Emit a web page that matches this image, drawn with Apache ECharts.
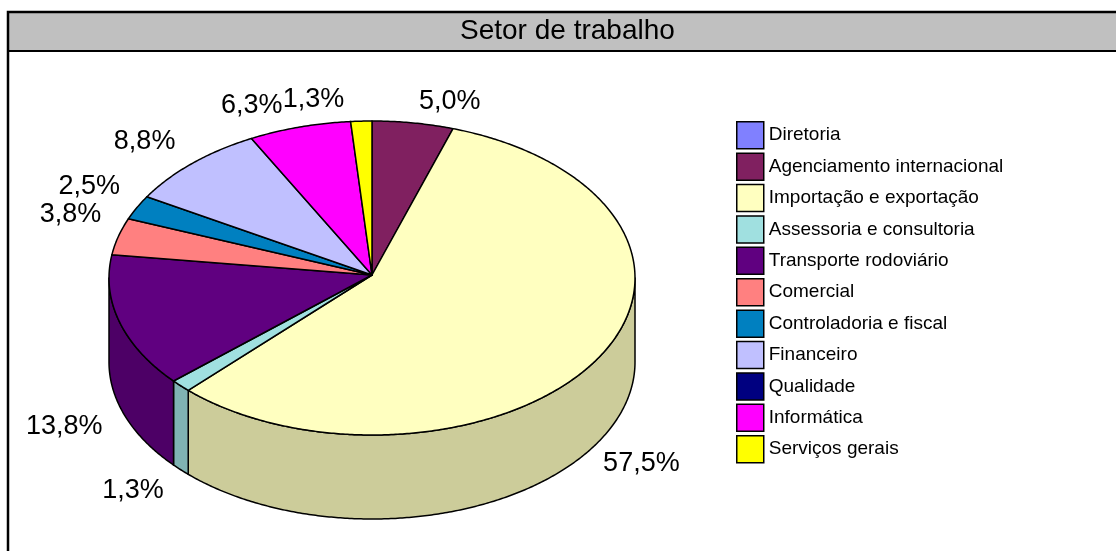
<!DOCTYPE html>
<html>
<head>
<meta charset="utf-8">
<script src="https://cdn.jsdelivr.net/npm/echarts@6/dist/echarts.min.js"></script>
<style>
  html, body { margin: 0; padding: 0; background: #fff; }
  #chart { width: 1116px; height: 551px; }
</style>
</head>
<body>
<div id="chart"></div>
<script>
// categorias e percentuais
var categories = ['Diretoria', 'Agenciamento internacional', 'Importação e exportação',
  'Assessoria e consultoria', 'Transporte rodoviário', 'Comercial',
  'Controladoria e fiscal', 'Financeiro', 'Qualidade', 'Informática', 'Serviços gerais']
var percents = [0, 5.0, 57.5, 1.3, 13.8, 3.8, 2.5, 8.8, 0, 6.3, 1.3]
var colors = ['#8080FF', '#802060', '#FFFFC0', '#A0E0E0', '#600080', '#FF8080',
  '#0080C0', '#C0C0FF', '#000080', '#FF00FF', '#FFFF00']

// geometria da pizza 3D
var cx = 372, cy = 278, rx = 263, ry = 157, depth = 84
var apexY = 275
var total = percents.reduce(function (a, b) { return a + b }, 0)

function darken(hex, f) {
  var n = parseInt(hex.slice(1), 16)
  var r = Math.round(((n >> 16) & 255) * f)
  var g = Math.round(((n >> 8) & 255) * f)
  var b = Math.round((n & 255) * f)
  return 'rgb(' + r + ',' + g + ',' + b + ')'
}

function pt(t, dy) {
  return [cx + rx * Math.sin(t), cy - ry * Math.cos(t) + dy]
}

function arc(a, b, dy) {
  var pts = []
  var n = Math.max(2, Math.ceil((b - a) / (Math.PI / 360)))
  for (var k = 0; k <= n; k++) {
    pts.push(pt(a + (b - a) * k / n, dy))
  }
  return pts
}

function renderSlice(params, api) {
  var i = params.seriesIndex
  var v = percents[i]
  if (!v) return null
  var before = 0
  for (var k = 0; k < i; k++) before += percents[k]
  var a1 = before / total * Math.PI * 2
  var a2 = (before + v) / total * Math.PI * 2
  var children = []

  // face superior
  var top = [[cx, apexY]].concat(arc(a1, a2, 0))
  children.push({
    type: 'polygon', z2: 2,
    shape: { points: top },
    style: { fill: colors[i], stroke: '#000', lineWidth: 1.5, lineJoin: 'round' }
  })

  // parede lateral visível (metade frontal)
  var s = Math.max(a1, Math.PI / 2)
  var e = Math.min(a2, Math.PI * 1.5)
  if (e > s) {
    var wall = arc(s, e, 0).concat(arc(s, e, depth).reverse())
    children.push({
      type: 'polygon', z2: 1,
      shape: { points: wall },
      style: { fill: darken(colors[i], 0.8), stroke: '#000', lineWidth: 1.5, lineJoin: 'round' }
    })
  }

  // rótulo
  var m = (a1 + a2) / 2
  var sn = Math.sin(m), cs = Math.cos(m)
  var p = pt(m, cs < 0 ? depth : 0)
  children.push({
    type: 'text', z2: 3,
    style: {
      text: v.toFixed(1).replace('.', ',') + '%',
      x: p[0] + (sn >= 0 ? 6 : -17),
      y: p[1] + (cs > 0 ? -8 : 7),
      align: sn >= 0 ? 'left' : 'right',
      verticalAlign: cs > 0 ? 'bottom' : 'top',
      font: '27px "Liberation Sans", Arial, sans-serif',
      fill: '#000'
    }
  })
  return { type: 'group', children: children }
}

var series = categories.map(function (name, i) {
  return {
    name: name,
    type: 'custom',
    coordinateSystem: 'none',
    renderItem: renderSlice,
    itemStyle: { color: colors[i], borderColor: '#000', borderWidth: 1.5 },
    data: [[percents[i]]],
    animation: false
  }
})

var chart = echarts.init(document.getElementById('chart'))
chart.setOption({
  backgroundColor: '#fff',
  animation: false,
  graphic: [
    {
      type: 'rect', z: -10,
      shape: { x: 8, y: 12, width: 1130, height: 39 },
      style: { fill: '#C0C0C0', stroke: '#000', lineWidth: 2 }
    },
    {
      type: 'rect', z: -9,
      shape: { x: 8, y: 12, width: 1130, height: 560 },
      style: { fill: 'none', stroke: '#000', lineWidth: 2.5 }
    }
  ],
  title: {
    text: 'Setor de trabalho',
    left: 460,
    top: 17,
    padding: 0,
    textStyle: {
      fontFamily: '"Liberation Sans", Arial, sans-serif',
      fontSize: 28,
      fontWeight: 'normal',
      color: '#000'
    }
  },
  legend: {
    orient: 'vertical',
    left: 736,
    top: 121,
    padding: 0,
    icon: 'rect',
    itemWidth: 27,
    itemHeight: 27,
    itemGap: 2.9,
    selectedMode: false,
    itemStyle: { borderColor: '#000', borderWidth: 1.5 },
    textStyle: {
      fontFamily: '"Liberation Sans", Arial, sans-serif',
      fontSize: 19,
      color: '#000'
    },
    data: categories
  },
  series: series
})
</script>
</body>
</html>
